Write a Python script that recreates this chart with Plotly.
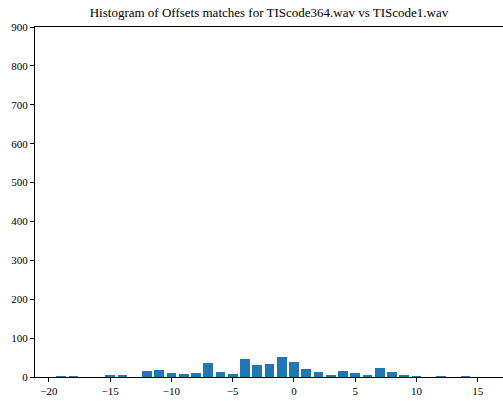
import plotly.graph_objects as go

offsets = [-19, -18, -15, -14, -12, -11, -10, -9, -8, -7, -6, -5, -4, -3, -2, -1,
           0, 1, 2, 3, 4, 5, 6, 7, 8, 9, 10, 12, 14]
counts = [1, 1, 5, 3, 15, 18, 10, 9, 10, 35, 12, 9, 46, 31, 33, 51,
          39, 21, 12, 6, 15, 10, 6, 24, 14, 6, 2, 2, 2]

x_tickvals = [-20, -15, -10, -5, 0, 5, 10, 15]
x_ticktext = ["\u221220", "\u221215", "\u221210", "\u22125", "0", "5", "10", "15"]
y_tickvals = [0, 100, 200, 300, 400, 500, 600, 700, 800, 900]

title_text = "Histogram of Offsets matches for TIScode364.wav vs TIScode1.wav"

font_family = "Liberation Serif"

fig = go.Figure()
fig.add_trace(go.Bar(
    x=offsets, y=counts, width=0.8,
    marker=dict(color="#1f77b4", line=dict(width=0)),
))

fig.update_layout(
    width=503, height=401,
    margin=dict(l=35, r=0, t=27, b=24),
    paper_bgcolor="white", plot_bgcolor="white",
    showlegend=False,
    font=dict(family=font_family, size=11, color="black"),
    title=dict(text=title_text, x=0.5 + 35 / 503 / 2, xanchor="center",
               y=1 - 12 / 401, yanchor="middle",
               font=dict(family=font_family, size=13, color="black")),
    bargap=0,
)
fig.update_xaxes(
    range=[-21.14, 17.07], tickvals=x_tickvals, ticktext=x_ticktext,
    showgrid=False, zeroline=False,
    showline=True, linecolor="black", linewidth=1, mirror=True,
    ticks="outside", ticklen=4, tickcolor="black", tickwidth=1,
    tickfont=dict(family=font_family, size=11, color="black"),
)
fig.update_yaxes(
    range=[0, 900], tickvals=y_tickvals,
    showgrid=False, zeroline=False,
    showline=True, linecolor="black", linewidth=1,
    ticks="outside", ticklen=4, tickcolor="black", tickwidth=1,
    tickfont=dict(family=font_family, size=11, color="black"),
)

fig.write_html("out.html", config={"displayModeBar": False},
               post_script="document.body.style.margin='0';")
